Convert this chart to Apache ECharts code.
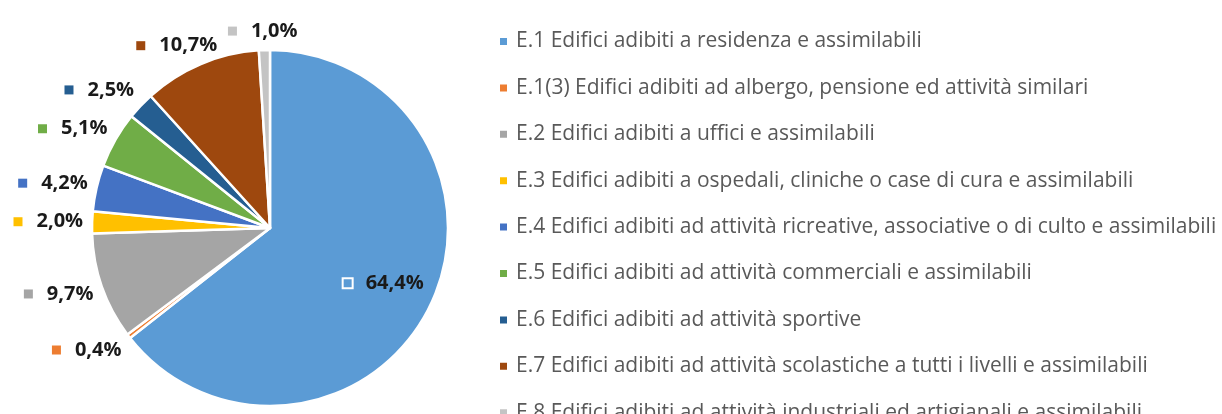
<!DOCTYPE html>
<html>
<head>
<meta charset="utf-8">
<script src="https://cdn.jsdelivr.net/npm/echarts@6/dist/echarts.min.js"></script>
<style>
  html, body { margin: 0; padding: 0; background: #fff; }
  #chart { width: 1222px; height: 414px; }
</style>
</head>
<body>
<div id="chart"></div>
<script>
const categories = [
  'E.1 Edifici adibiti a residenza e assimilabili',
  'E.1(3) Edifici adibiti ad albergo, pensione ed attività similari',
  'E.2 Edifici adibiti a uffici e assimilabili',
  'E.3 Edifici adibiti a ospedali, cliniche o case di cura e assimilabili',
  'E.4 Edifici adibiti ad attività ricreative, associative o di culto e assimilabili',
  'E.5 Edifici adibiti ad attività commerciali e assimilabili',
  'E.6 Edifici adibiti ad attività sportive',
  'E.7 Edifici adibiti ad attività scolastiche a tutti i livelli e assimilabili',
  'E.8 Edifici adibiti ad attività industriali ed artigianali e assimilabili'
];
const values = [64.4, 0.4, 9.7, 2.0, 4.2, 5.1, 2.5, 10.7, 1.0];
const colors = ['#5B9BD5', '#ED7D31', '#A5A5A5', '#FFC000', '#4472C4', '#70AD47', '#255E91', '#9E480E', '#C4C4C4'];

const CENTER = [270, 228];
const RADIUS = 178;
const GAP = 9;

const rich = {
  t: { fontFamily: 'Open Sans', fontWeight: 'bold', fontSize: 20, color: '#1a1a1a', padding: [0, 0, 0, 14] }
};
colors.forEach(function (c, i) {
  rich['m' + i] = i === 0
    ? { width: 8, height: 8, backgroundColor: c, borderColor: '#ffffff', borderWidth: 2 }
    : { width: 9, height: 9, backgroundColor: c };
});

// map a direction onto the perimeter of a unit square (linear in angle, Excel-like anchoring)
function squarePoint(dx, dy) {
  const a = Math.atan2(dy, dx) * 180 / Math.PI;
  if (a >= -45 && a < 45) return [1, a / 45];
  if (a >= 45 && a < 135) return [(90 - a) / 45, 1];
  if (a >= -135 && a < -45) return [(a + 90) / 45, -1];
  return [-1, a >= 135 ? (180 - a) / 45 : (-180 - a) / 45];
}

const chart = echarts.init(document.getElementById('chart'), null, { renderer: 'canvas' });
chart.setOption({
  backgroundColor: '#ffffff',
  animation: false,
  color: colors,
  legend: {
    orient: 'vertical',
    left: 493,
    top: 26,
    height: 800,
    itemWidth: 9,
    itemHeight: 9,
    itemGap: 25.4,
    icon: 'rect',
    selectedMode: false,
    textStyle: { fontFamily: 'Open Sans', fontSize: 21, color: '#595959', lineHeight: 20, padding: [0, 0, 0, 3] },
    data: categories
  },
  series: [{
    type: 'pie',
    center: CENTER,
    radius: RADIUS,
    startAngle: 90,
    clockwise: true,
    avoidLabelOverlap: false,
    itemStyle: { borderColor: '#ffffff', borderWidth: 2.5 },
    label: {
      show: true,
      position: 'outside',
      distanceToLabelLine: 0,
      formatter: function (p) {
        return '{m' + p.dataIndex + '|}{t|' + p.value.toFixed(1).replace('.', ',') + '%}';
      },
      rich: rich
    },
    labelLine: { show: true, length: 10, length2: 0, lineStyle: { opacity: 0 } },
    labelLayout: function (p) {
      const pts = p.labelLinePoints;
      if (!pts) return {};
      const x0 = pts[0][0], y0 = pts[0][1];
      let dx = pts[1][0] - x0, dy = pts[1][1] - y0;
      const L = Math.hypot(dx, dy) || 1;
      dx /= L; dy /= L;
      const w = p.labelRect.width, h = p.labelRect.height;
      if (p.dataIndex === 0) {
        const d = -0.29 * RADIUS;
        return { x: x0 + dx * d, y: y0 + dy * d, align: 'center', verticalAlign: 'middle' };
      }
      const s = squarePoint(dx, dy);
      const ax = x0 + dx * GAP, ay = y0 + dy * GAP;
      return { x: ax + s[0] * w / 2, y: ay + s[1] * h / 2, align: 'center', verticalAlign: 'middle' };
    },
    emphasis: { disabled: true },
    data: categories.map(function (name, i) { return { name: name, value: values[i] }; })
  }]
});
</script>
</body>
</html>
